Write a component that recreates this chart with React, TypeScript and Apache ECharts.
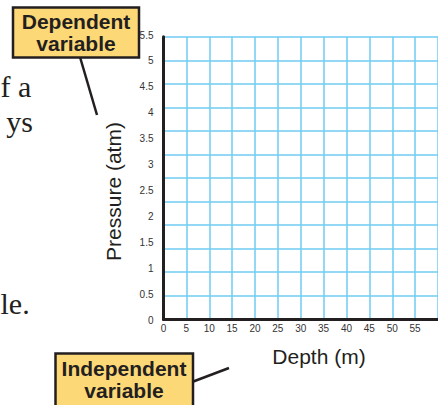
import React, { useEffect, useRef } from "react";
import * as echarts from "echarts";

// Tick labels / scales
const depthTicks = [0, 5, 10, 15, 20, 25, 30, 35, 40, 45, 50, 55, 60];
const pressureTicks = [0, 0.5, 1, 1.5, 2, 2.5, 3, 3.5, 4, 4.5, 5, 5.5];
const gridRows = 12; // horizontal grid rows (graph paper)

const xTitle = "Depth (m)";
const yTitle = "Pressure (atm)";
const dependentLabel = ["Dependent", "variable"];
const independentLabel = ["Independent", "variable"];
const sideText = ["f a", "ys", "le."];

const INK = "#231f20";
const GRID_BLUE = "#6fcdf2";
const YELLOW = "#fdd877";
const SANS = "Liberation Sans, Arial, Helvetica, sans-serif";
const SERIF = "Liberation Serif, Times New Roman, serif";

export default function App() {
  const ref = useRef<HTMLDivElement>(null);

  useEffect(() => {
    if (!ref.current) return;
    const chart = echarts.init(ref.current, null, { renderer: "svg" });

    const xMin = depthTicks[0];
    const xMax = depthTicks[depthTicks.length - 1];
    const xStep = depthTicks[1] - depthTicks[0];
    const yMax = pressureTicks[pressureTicks.length - 1];
    const yStep = pressureTicks[1] - pressureTicks[0];

    const serifText = (text: string, x: number, y: number, align: string) => ({
      type: "text",
      x,
      y,
      style: { text, font: `30px ${SERIF}`, fill: "#231f20", textAlign: align, textVerticalAlign: "bottom" },
    });

    const option: any = {
      animation: false,
      backgroundColor: "#ffffff",
      grid: [
        { left: 163.5, top: 36.7, width: 282, height: 282.6, containLabel: false },
        { left: 163.5, top: 35, width: 282, height: 285.5, containLabel: false },
      ],
      xAxis: [
        {
          type: "value",
          gridIndex: 0,
          min: xMin,
          max: xMax,
          interval: xStep,
          axisLine: { show: true, onZero: false, lineStyle: { color: INK, width: 3 } },
          axisTick: { show: false },
          axisLabel: {
            show: true,
            showMaxLabel: false,
            margin: 4,
            fontSize: 10,
            color: "#333333",
            fontFamily: SANS,
          },
          splitLine: { show: true, lineStyle: { color: GRID_BLUE, width: 1.5 } },
        },
        {
          type: "value",
          gridIndex: 1,
          min: xMin,
          max: xMax,
          show: false,
        },
      ],
      yAxis: [
        {
          type: "value",
          gridIndex: 0,
          min: 0,
          max: gridRows,
          interval: 1,
          axisLine: { show: true, onZero: false, lineStyle: { color: INK, width: 3 } },
          axisTick: { show: false },
          axisLabel: { show: false },
          splitLine: { show: true, lineStyle: { color: GRID_BLUE, width: 1.5 } },
        },
        {
          type: "value",
          gridIndex: 1,
          min: 0,
          max: yMax,
          interval: yStep,
          axisLine: { show: false },
          axisTick: { show: false },
          splitLine: { show: false },
          axisLabel: {
            show: true,
            margin: 10,
            fontSize: 10,
            color: "#333333",
            fontFamily: SANS,
          },
        },
      ],
      series: [
        {
          type: "line",
          xAxisIndex: 0,
          yAxisIndex: 0,
          data: [],
          silent: true,
        },
      ],
      graphic: [
        // side serif text (cut from page)
        serifText(sideText[0], 0.5, 101, "left"),
        serifText(sideText[1], 33, 136.5, "right"),
        serifText(sideText[2], 0.5, 318.5, "left"),
        // axis titles
        {
          type: "text",
          x: 113,
          y: 191.5,
          rotation: Math.PI / 2,
          style: { text: yTitle, font: `21px ${SANS}`, fill: INK, textAlign: "center", textVerticalAlign: "middle" },
        },
        {
          type: "text",
          x: 319,
          y: 356,
          style: { text: xTitle, font: `21px ${SANS}`, fill: INK, textAlign: "center", textVerticalAlign: "middle" },
        },
        // dependent variable callout
        {
          type: "line",
          shape: { x1: 80, y1: 57, x2: 97, y2: 115 },
          style: { stroke: INK, lineWidth: 2.5 },
        },
        {
          type: "rect",
          shape: { x: 13, y: 7.5, width: 126, height: 50 },
          style: { fill: YELLOW, stroke: INK, lineWidth: 2.5 },
        },
        {
          type: "text",
          x: 76,
          y: 21.7,
          style: { text: dependentLabel[0], font: `bold 21px ${SANS}`, fill: INK, textAlign: "center", textVerticalAlign: "middle" },
        },
        {
          type: "text",
          x: 76,
          y: 43.3,
          style: { text: dependentLabel[1], font: `bold 21px ${SANS}`, fill: INK, textAlign: "center", textVerticalAlign: "middle" },
        },
        // independent variable callout
        {
          type: "line",
          shape: { x1: 192, y1: 382, x2: 229, y2: 368 },
          style: { stroke: INK, lineWidth: 2.5 },
        },
        {
          type: "rect",
          shape: { x: 55.5, y: 353.5, width: 137.5, height: 56 },
          style: { fill: YELLOW, stroke: INK, lineWidth: 2.5 },
        },
        {
          type: "text",
          x: 124,
          y: 368.3,
          style: { text: independentLabel[0], font: `bold 21px ${SANS}`, fill: INK, textAlign: "center", textVerticalAlign: "middle" },
        },
        {
          type: "text",
          x: 124,
          y: 390.7,
          style: { text: independentLabel[1], font: `bold 21px ${SANS}`, fill: INK, textAlign: "center", textVerticalAlign: "middle" },
        },
      ],
    };

    chart.setOption(option);
    return () => chart.dispose();
  }, []);

  return (
    <div
      ref={ref}
      style={{ position: "absolute", left: 0, top: 0, width: 438, height: 405, overflow: "hidden" }}
    />
  );
}
